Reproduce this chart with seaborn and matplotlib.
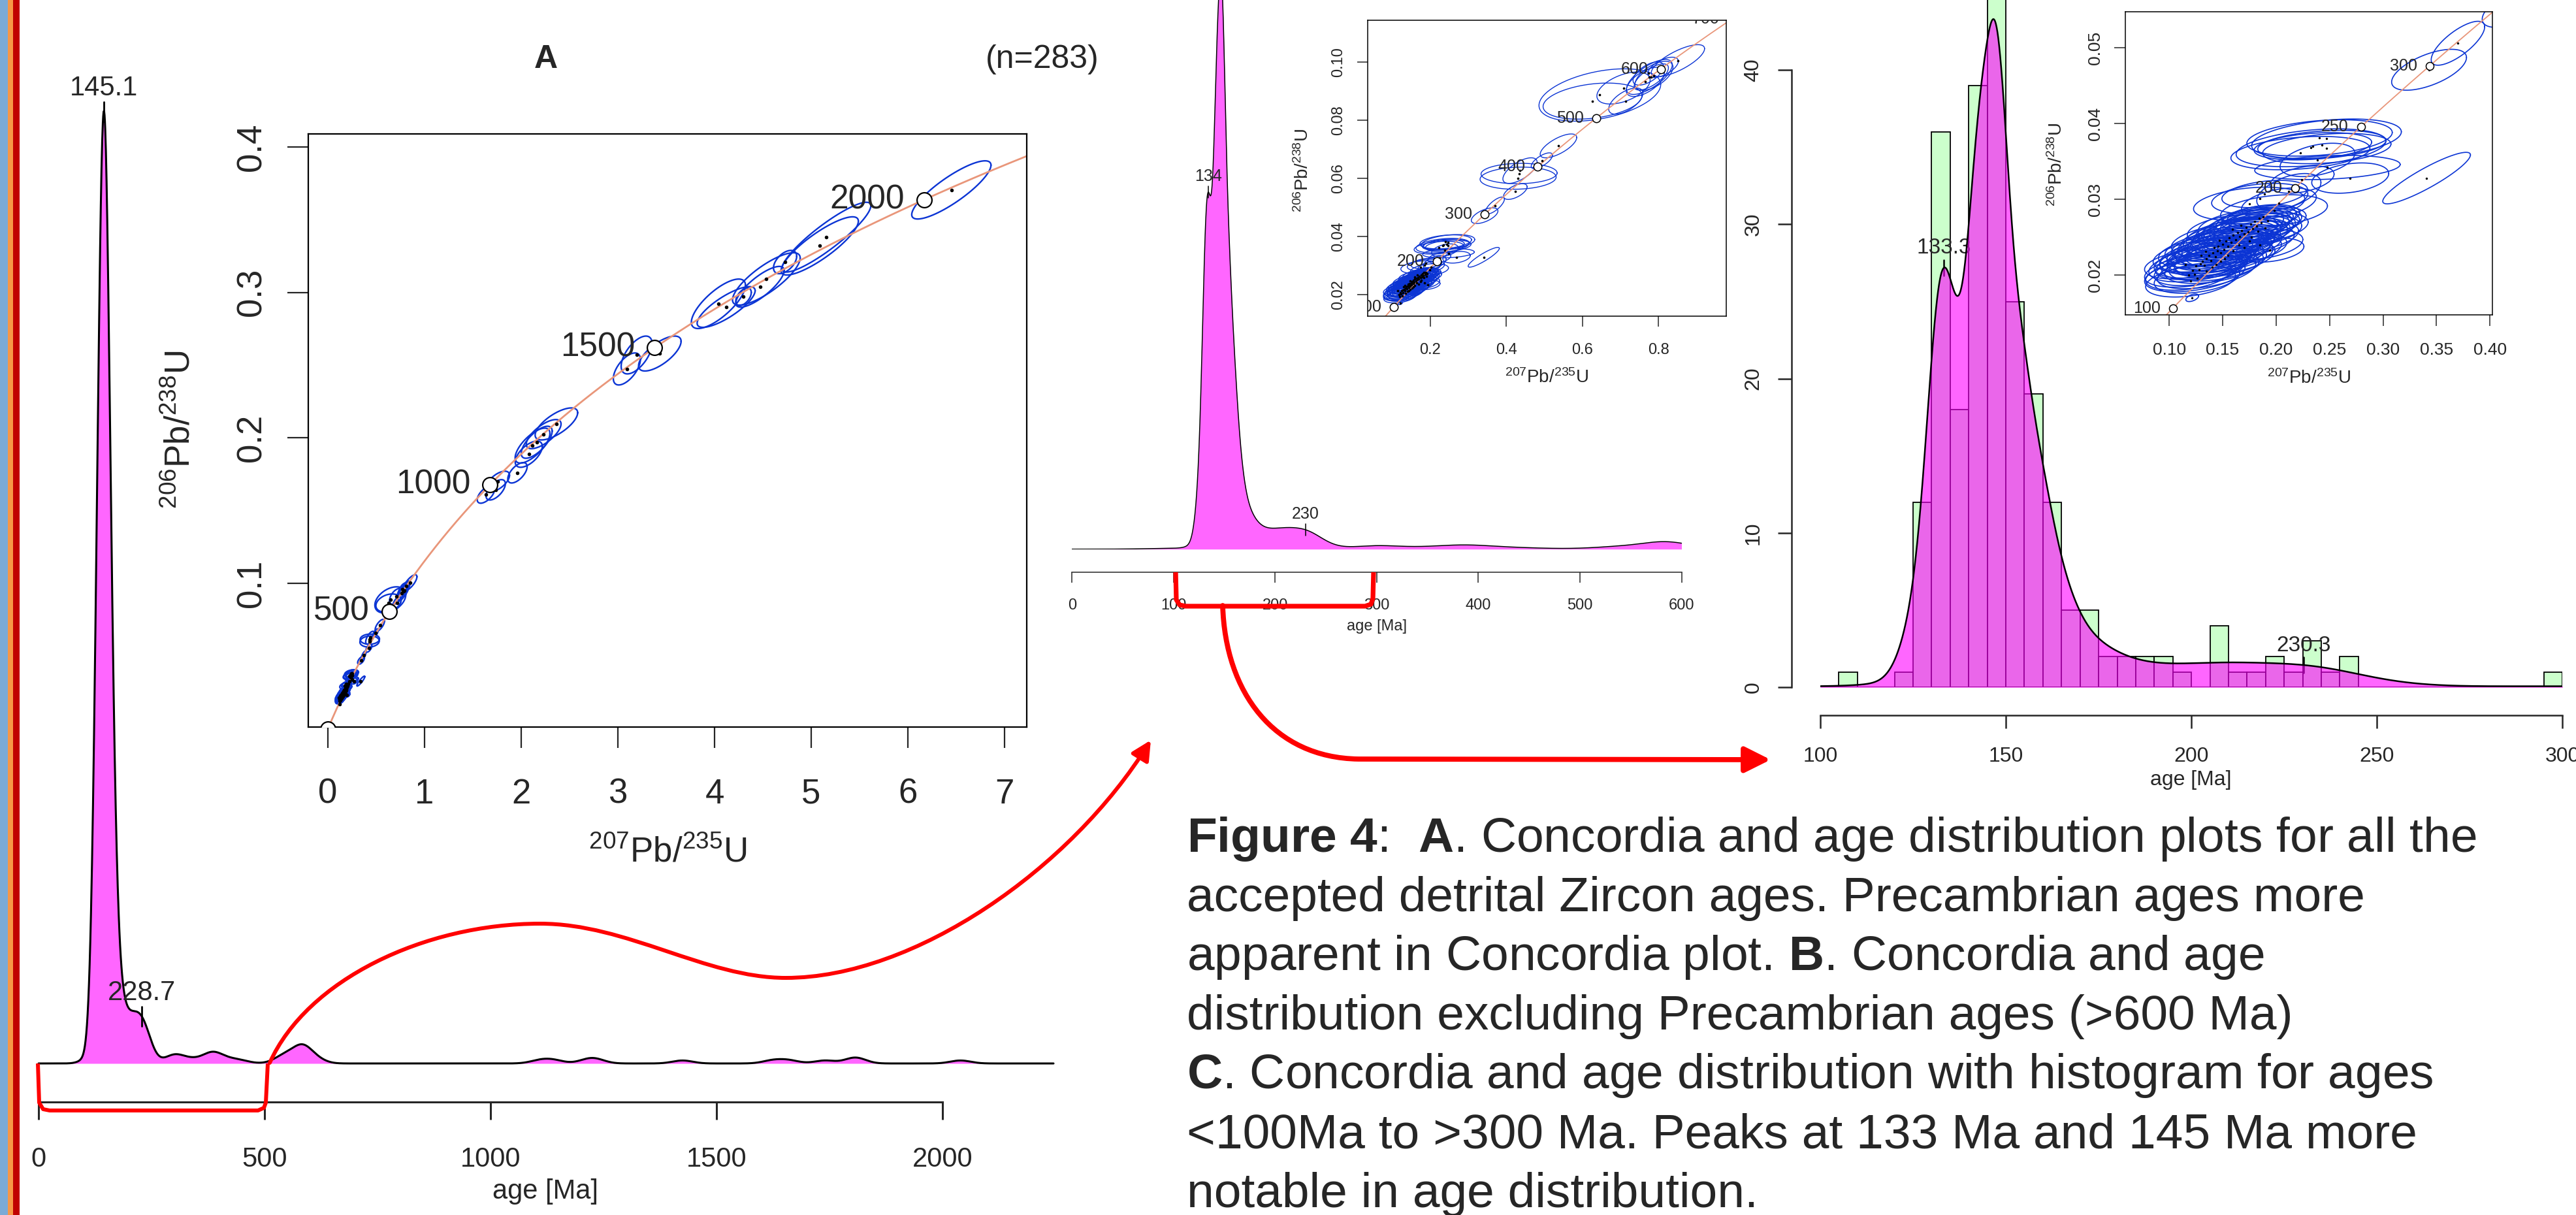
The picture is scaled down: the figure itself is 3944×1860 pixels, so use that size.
import numpy as np
import pandas as pd
import matplotlib
matplotlib.use("Agg")
import matplotlib.pyplot as plt
import matplotlib.transforms as mtrans
from matplotlib.path import Path
from matplotlib.patches import FancyArrowPatch, PathPatch, Rectangle
import seaborn as sns

# ---------------- data ----------------
# decay constants (1/Ma) used for the concordia curve
L238 = 1.55125e-4
L235 = 9.8485e-4

# panel C histogram: 5 Ma bins, 100-300 Ma
hist_edges = list(range(100, 305, 5))
hist_counts = [0, 1, 0, 0, 1, 12, 36, 18, 39, 45, 25, 19, 12, 5, 5, 2, 2, 2, 2, 1,
               0, 4, 1, 1, 2, 1, 3, 1, 2, 0, 0, 0, 0, 0, 0, 0, 0, 0, 0, 1]

# single grain ages outside the histogram range (Ma)
mid_ages = [297, 318, 347, 376, 385, 392, 413, 444, 534, 546, 560, 572, 582, 585, 589, 602, 616]
old_ages = [1110, 1140, 1215, 1235, 1425, 1625, 1660, 1740, 1800, 1815, 2040]

# labelled peaks
peaks_A = [145.1, 228.7]
peaks_B = [134, 230]
peaks_C = [133.3, 230.3]

# concordia age markers (Ma)
markers_A = [0, 500, 1000, 1500, 2000]
markers_B = [100, 200, 300, 400, 500, 600, 700]
markers_C = [100, 200, 250, 300]

# error ellipses: 207Pb/235U, 206Pb/238U, half-width x, half-width y, rho
ell_cluster = [
    (0.118, 0.0200, 0.040, 0.0020, 0.35), (0.122, 0.0206, 0.045, 0.0022, 0.40),
    (0.125, 0.0212, 0.038, 0.0018, 0.35), (0.128, 0.0207, 0.042, 0.0021, 0.40),
    (0.131, 0.0218, 0.045, 0.0022, 0.40), (0.133, 0.0213, 0.040, 0.0019, 0.35),
    (0.135, 0.0222, 0.044, 0.0021, 0.40), (0.137, 0.0226, 0.046, 0.0023, 0.45),
    (0.139, 0.0219, 0.041, 0.0020, 0.35), (0.141, 0.0229, 0.043, 0.0021, 0.40),
    (0.143, 0.0224, 0.045, 0.0022, 0.40), (0.145, 0.0232, 0.040, 0.0019, 0.35),
    (0.146, 0.0238, 0.044, 0.0020, 0.40), (0.148, 0.0229, 0.046, 0.0023, 0.45),
    (0.150, 0.0241, 0.042, 0.0020, 0.40), (0.151, 0.0234, 0.045, 0.0022, 0.40),
    (0.153, 0.0245, 0.040, 0.0019, 0.35), (0.155, 0.0238, 0.043, 0.0021, 0.40),
    (0.156, 0.0249, 0.045, 0.0022, 0.45), (0.158, 0.0243, 0.041, 0.0020, 0.35),
    (0.160, 0.0253, 0.044, 0.0021, 0.40), (0.162, 0.0247, 0.042, 0.0020, 0.40),
    (0.164, 0.0256, 0.040, 0.0019, 0.35), (0.166, 0.0251, 0.045, 0.0022, 0.40),
    (0.168, 0.0259, 0.038, 0.0018, 0.35), (0.170, 0.0254, 0.043, 0.0021, 0.40),
    (0.172, 0.0263, 0.040, 0.0020, 0.40), (0.174, 0.0257, 0.042, 0.0021, 0.40),
    (0.176, 0.0267, 0.038, 0.0019, 0.35), (0.178, 0.0261, 0.040, 0.0020, 0.40),
    (0.180, 0.0271, 0.036, 0.0018, 0.35), (0.182, 0.0265, 0.040, 0.0020, 0.40),
    (0.184, 0.0275, 0.035, 0.0017, 0.35), (0.186, 0.0269, 0.038, 0.0019, 0.40),
    (0.188, 0.0277, 0.034, 0.0016, 0.35), (0.190, 0.0262, 0.040, 0.0020, 0.40),
    (0.192, 0.0272, 0.036, 0.0018, 0.35), (0.194, 0.0233, 0.032, 0.0016, 0.30),
    (0.185, 0.0240, 0.040, 0.0020, 0.35), (0.175, 0.0245, 0.042, 0.0021, 0.40),
    (0.130, 0.0226, 0.045, 0.0022, 0.40), (0.126, 0.0196, 0.040, 0.0020, 0.35),
    (0.140, 0.0210, 0.044, 0.0021, 0.40), (0.115, 0.0214, 0.038, 0.0019, 0.35),
    (0.155, 0.0226, 0.042, 0.0021, 0.40), (0.165, 0.0240, 0.040, 0.0020, 0.40),
    (0.148, 0.0218, 0.043, 0.0021, 0.40), (0.160, 0.0232, 0.045, 0.0022, 0.40),
    (0.170, 0.0236, 0.040, 0.0020, 0.35), (0.135, 0.0205, 0.046, 0.0023, 0.45),
    (0.120, 0.0192, 0.042, 0.0021, 0.35), (0.124, 0.0201, 0.047, 0.0023, 0.40),
    (0.129, 0.0215, 0.048, 0.0024, 0.45), (0.134, 0.0231, 0.044, 0.0021, 0.40),
    (0.142, 0.0236, 0.046, 0.0023, 0.40), (0.147, 0.0246, 0.045, 0.0022, 0.40),
    (0.152, 0.0222, 0.047, 0.0023, 0.45), (0.159, 0.0260, 0.042, 0.0020, 0.35),
    (0.167, 0.0266, 0.040, 0.0020, 0.40), (0.177, 0.0250, 0.044, 0.0021, 0.40),
    (0.183, 0.0258, 0.041, 0.0020, 0.35), (0.144, 0.0214, 0.044, 0.0022, 0.40),
    (0.1216, 0.0170, 0.006, 0.0005, 0.50),
]
ell_200_300 = [
    (0.1748, 0.0294, 0.052, 0.0022, 0.30), (0.1847, 0.0301, 0.045, 0.0020, 0.30),
    (0.1893, 0.0307, 0.040, 0.0018, 0.35), (0.2119, 0.0310, 0.030, 0.0024, 0.50),
    (0.2026, 0.0295, 0.035, 0.0020, 0.40), (0.1980, 0.0285, 0.050, 0.0021, 0.30),
    (0.2227, 0.0361, 0.065, 0.0022, 0.30), (0.2326, 0.0368, 0.070, 0.0025, 0.35),
    (0.2344, 0.0370, 0.055, 0.0018, 0.30), (0.2406, 0.0381, 0.068, 0.0024, 0.30),
    (0.2428, 0.0372, 0.060, 0.0019, 0.30), (0.2471, 0.0380, 0.070, 0.0026, 0.35),
    (0.2474, 0.0367, 0.060, 0.0020, 0.30), (0.2387, 0.0352, 0.035, 0.0022, 0.40),
    (0.2242, 0.0326, 0.030, 0.0018, 0.40), (0.2480, 0.0342, 0.068, 0.0016, 0.25),
    (0.2693, 0.0328, 0.036, 0.0020, 0.30), (0.3407, 0.0328, 0.041, 0.0034, 0.90),
]
ell_300_650 = [
    (0.343, 0.0471, 0.035, 0.0027, 0.60), (0.370, 0.0506, 0.025, 0.0029, 0.75),
    (0.4237, 0.0554, 0.031, 0.0027, 0.60), (0.431, 0.0600, 0.100, 0.0038, 0.10),
    (0.4336, 0.0616, 0.100, 0.0035, 0.05), (0.436, 0.0626, 0.045, 0.0044, 0.65),
    (0.4934, 0.0660, 0.028, 0.0027, 0.70), (0.537, 0.0711, 0.048, 0.0041, 0.70),
    (0.6458, 0.0886, 0.160, 0.0090, 0.40), (0.6266, 0.0865, 0.130, 0.0062, 0.30),
    (0.714, 0.0865, 0.045, 0.0045, 0.60), (0.708, 0.0910, 0.070, 0.0055, 0.50),
    (0.765, 0.0931, 0.050, 0.0050, 0.60), (0.773, 0.0960, 0.040, 0.0040, 0.60),
    (0.781, 0.0948, 0.045, 0.0045, 0.70), (0.788, 0.0952, 0.050, 0.0050, 0.60),
    (0.812, 0.0981, 0.040, 0.0035, 0.60), (0.851, 0.1004, 0.070, 0.0055, 0.75),
    (0.776, 0.0948, 0.060, 0.0060, 0.70),
]
ell_old = [
    (6.450, 0.3705, 0.41, 0.020, 0.85), (5.157, 0.3380, 0.46, 0.024, 0.90),
    (5.088, 0.3320, 0.40, 0.020, 0.85), (4.730, 0.3209, 0.12, 0.008, 0.50),
    (4.536, 0.3093, 0.35, 0.018, 0.80), (4.470, 0.3039, 0.25, 0.014, 0.80),
    (4.040, 0.2922, 0.28, 0.017, 0.75), (4.120, 0.2900, 0.30, 0.014, 0.80),
    (4.300, 0.2970, 0.08, 0.006, 0.50), (3.194, 0.2570, 0.16, 0.013, 0.60),
    (3.093, 0.2474, 0.14, 0.011, 0.60), (3.434, 0.2580, 0.22, 0.012, 0.70),
    (2.364, 0.2096, 0.22, 0.011, 0.70), (2.232, 0.2026, 0.18, 0.010, 0.70),
    (2.117, 0.1947, 0.18, 0.012, 0.70), (2.078, 0.1888, 0.14, 0.009, 0.60),
    (2.160, 0.1970, 0.16, 0.011, 0.70), (1.961, 0.1760, 0.10, 0.007, 0.60),
    (1.759, 0.1701, 0.12, 0.007, 0.60), (1.635, 0.1611, 0.09, 0.006, 0.60),
    (1.736, 0.1643, 0.10, 0.007, 0.60),
]

# ---------------- setup ----------------
W, H = 3944, 1860
sns.set_theme(style="ticks")
plt.rcParams["font.family"] = ["Liberation Sans", "DejaVu Sans"]
plt.rcParams["mathtext.fontset"] = "custom"
plt.rcParams["mathtext.rm"] = "Liberation Sans"
plt.rcParams["mathtext.bf"] = "Liberation Sans:bold"
plt.rcParams["mathtext.it"] = "Liberation Sans:italic"

ELL = "#0b34d4"
MAG = "#ff00ff"
fig = plt.figure(figsize=(W / 100, H / 100), dpi=100, facecolor="white")
PT = 0.72  # points per pixel


def px_axes(x0, y0, x1, y1, **kw):
    return fig.add_axes([x0 / W, 1 - y1 / H, (x1 - x0) / W, (y1 - y0) / H], **kw)


def ftext(x, y, s, **kw):
    return fig.text(x / W, 1 - y / H, s, **kw)


hist_centers = [e + 2.5 for e in hist_edges[:-1]]
df_C = pd.DataFrame({"age": hist_centers, "n": hist_counts})
df_C = df_C[df_C.n > 0]
df_B = pd.concat([df_C, pd.DataFrame({"age": mid_ages, "n": 1})], ignore_index=True)
df_A = pd.concat([df_B, pd.DataFrame({"age": old_ages, "n": 1})], ignore_index=True)


def gauss(x, m, s):
    return np.exp(-0.5 * ((x - m) / s) ** 2) / (s * np.sqrt(2 * np.pi))


def kde(ax, df, h, alpha, clip, lw):
    # adaptive kernel density (local bandwidth shrinks where grains crowd)
    a = df.age.to_numpy(float)
    w = df.n.to_numpy(float)
    pilot = (w[None, :] * gauss(a[:, None], a[None, :], h)).sum(1) / w.sum()
    g = np.exp((w * np.log(pilot)).sum() / w.sum())
    hi = h * (g / pilot) ** alpha
    grid = np.linspace(clip[0], clip[1], 3000)
    dens = (w[None, :] * gauss(grid[:, None], a[None, :], hi[None, :])).sum(1) / w.sum()
    ax.fill_between(grid, dens, color=MAG, alpha=0.6, lw=0)
    sns.lineplot(x=grid, y=dens, color="black", lw=lw, ax=ax)
    ax.set(xlabel="", ylabel="")
    return grid, dens


def mark_peaks(ax, xs, ys, ages, scale, tick_px, lab_px, size, lw):
    y0, y1 = ax.get_ylim()
    per_px = (y1 - y0) / ax.bbox.height
    for a in ages:
        yv = np.interp(a, xs, ys) * scale
        ax.plot([a, a], [yv - tick_px * per_px, yv + tick_px * per_px], color="black", lw=lw, clip_on=False)
        ax.text(a, yv + lab_px * per_px, f"{a:g}", ha="center", va="center", fontsize=size, clip_on=False)


def r_xaxis(ax, off_px, ticks, lw, tlen_px, pad_px, size):
    for s in ["left", "right", "top"]:
        ax.spines[s].set_visible(False)
    ax.spines["bottom"].set_position(("outward", off_px * PT))
    ax.spines["bottom"].set_bounds(ticks[0], ticks[-1])
    ax.spines["bottom"].set_linewidth(lw)
    ax.set_xticks(ticks)
    ax.set_yticks([])
    ax.tick_params(axis="x", length=tlen_px * PT, width=lw, pad=pad_px * PT, labelsize=size, direction="out")
    ax.patch.set_visible(False)


all_ell = ell_cluster + ell_200_300 + ell_300_650 + ell_old
cur_ages = np.linspace(0, 2400, 800)
cur_x = np.exp(L235 * cur_ages) - 1
cur_y = np.exp(L238 * cur_ages) - 1


def concordia(ax, xlim, ylim, xticks, xlabs, yticks, ylabs, markers, st):
    t = np.linspace(0, 2 * np.pi, 90)
    for x, y, dx, dy, r in all_ell:
        ax.plot(x + dx * np.cos(t), y + dy * (r * np.cos(t) + np.sqrt(1 - r * r) * np.sin(t)),
                color=ELL, lw=st["ell_lw"])
    sns.scatterplot(x=[e[0] for e in all_ell], y=[e[1] for e in all_ell], color="black",
                    s=st["dot_s"], linewidth=0, ax=ax, zorder=3)
    sns.lineplot(x=cur_x, y=cur_y, sort=False, estimator=None, color="#e9967a", lw=st["conc_lw"], ax=ax, zorder=2)
    mx = np.exp(L235 * np.array(markers, float)) - 1
    my = np.exp(L238 * np.array(markers, float)) - 1
    sns.scatterplot(x=mx, y=my, s=st["circ_s"], facecolor="white", edgecolor="black",
                    linewidth=st["box_lw"], ax=ax, zorder=4)
    tr = mtrans.offset_copy(ax.transData, fig=fig, x=-st["lab_dx"] * PT, y=0, units="points")
    for a, x, y in zip(markers, mx, my):
        tx = ax.text(x, y, str(a), transform=tr, ha="right", va="center", fontsize=st["lab_size"], zorder=5)
        tx.set_clip_on(True)
        tx.set_clip_box(ax.bbox)
    ax.set_xlim(*xlim)
    ax.set_ylim(*ylim)
    ax.set_xticks(xticks, xlabs)
    ax.set_yticks(yticks, ylabs)
    ax.set(xlabel="", ylabel="")
    for s in ax.spines.values():
        s.set_visible(True)
        s.set_linewidth(st["box_lw"])
        s.set_color("black")
    ax.tick_params(axis="x", length=st["tlen"] * PT, width=st["box_lw"], pad=st["xpad"] * PT,
                   labelsize=st["tsize"], direction="out")
    ax.tick_params(axis="y", length=st["tlen"] * PT, width=st["box_lw"], pad=st["ypad"] * PT,
                   labelsize=st["tsize"], direction="out", labelrotation=90)
    for lb in ax.get_yticklabels():
        lb.set_va("center")
    ax.set_facecolor("white")


XLAB = r"$^{207}$Pb/$^{235}$U"
YLAB = r"$^{206}$Pb/$^{238}$U"

# ---------------- panel A ----------------
axA = px_axes(59, 170, 1613, 1628)
xa, ya = kde(axA, df_A, 12, 0.15, (0, 2246), 2.2)
for ln in axA.lines:
    ln.set_clip_on(False)
axA.set_xlim(0, 2246)
axA.set_ylim(0, ya.max())
r_xaxis(axA, 59, [0, 500, 1000, 1500, 2000], 2.2, 27, 41, 30)
mark_peaks(axA, xa, ya, peaks_A, 1.0, 15, 36, 30, 2.0)
ftext(835, 1824, "age [Ma]", ha="center", va="center", fontsize=30)
ftext(836, 91, "A", ha="center", va="center", fontsize=36, fontweight="bold")
ftext(1596, 91, "(n=283)", ha="center", va="center", fontsize=36)

stA = dict(ell_lw=1.7, dot_s=16, circ_s=270, conc_lw=2.0, lab_size=37, lab_dx=30, box_lw=1.6,
           tlen=32, tsize=38, xpad=46, ypad=30)
cA = px_axes(472, 205, 1572, 1113)
concordia(cA, (-0.203, 7.23), (0.0012, 0.409), range(8), [str(i) for i in range(8)],
          [0.1, 0.2, 0.3, 0.4], ["0.1", "0.2", "0.3", "0.4"], markers_A, stA)
ftext(1022, 1305, XLAB, ha="center", va="center", fontsize=38)
ftext(276, 658, YLAB, ha="center", va="center", fontsize=38, rotation=90)

# ---------------- panel B ----------------
axB = px_axes(1641.3, 0, 2574.5, 840.7)
xb, yb = kde(axB, df_B, 5, 0.5, (0, 600), 1.1)
axB.set_xlim(0, 600)
axB.set_ylim(0, yb.max() * 840.7 / 880)
r_xaxis(axB, 35, [0, 100, 200, 300, 400, 500, 600], 1.1, 16, 24, 17)
mark_peaks(axB, xb, yb, peaks_B, 1.0, 9, 24, 18, 1.1)
ftext(2108, 959, "age [Ma]", ha="center", va="center", fontsize=17)

stB = dict(ell_lw=1.0, dot_s=7, circ_s=80, conc_lw=1.3, lab_size=18, lab_dx=19, box_lw=1.1,
           tlen=16, tsize=17, xpad=25, ypad=18)
cB = px_axes(2094, 31, 2643, 484)
concordia(cB, (0.0357, 0.978), (0.01255, 0.1143), [0.2, 0.4, 0.6, 0.8], ["0.2", "0.4", "0.6", "0.8"],
          [0.02, 0.04, 0.06, 0.08, 0.10], ["0.02", "0.04", "0.06", "0.08", "0.10"], markers_B, stB)
ftext(2368, 578, XLAB, ha="center", va="center", fontsize=20)
ftext(1995, 261, YLAB, ha="center", va="center", fontsize=20, rotation=90)

# ---------------- panel C ----------------
axC = px_axes(2786.9, 0, 3923.4, 1052.3)
sns.histplot(x=hist_centers, weights=hist_counts, bins=hist_edges, color="#ccffcc", edgecolor="black",
             linewidth=1.3, alpha=1, ax=axC)
axC.set(xlabel="", ylabel="")
nC = sum(hist_counts)
ytop = 44.53
axC2 = axC.twinx()
xc, yc = kde(axC2, df_C, 4.2, 0.5, (100, 300), 1.8)
axC.set_xlim(100, 300)
axC.set_ylim(0, ytop)
axC2.set_ylim(0, ytop / (nC * 5))
axC2.axis("off")
for s in ["right", "top"]:
    axC.spines[s].set_visible(False)
axC.spines["bottom"].set_position(("outward", 42.7 * PT))
axC.spines["bottom"].set_bounds(100, 300)
axC.spines["left"].set_position(("outward", 44.2 * PT))
axC.spines["left"].set_bounds(0, 40)
for s in ["bottom", "left"]:
    axC.spines[s].set_linewidth(1.8)
axC.set_xticks([100, 150, 200, 250, 300])
axC.set_yticks([0, 10, 20, 30, 40])
axC.tick_params(axis="x", length=20 * PT, width=1.8, pad=28 * PT, labelsize=23, direction="out")
axC.tick_params(axis="y", length=21 * PT, width=1.8, pad=22 * PT, labelsize=23, direction="out", labelrotation=90)
for lb in axC.get_yticklabels():
    lb.set_va("center")
axC.patch.set_visible(False)
mark_peaks(axC, xc, yc, peaks_C, nC * 5, 12, 30, 24, 1.8)
ftext(3354, 1194, "age [Ma]", ha="center", va="center", fontsize=23)

stC = dict(ell_lw=1.2, dot_s=6, circ_s=75, conc_lw=1.3, lab_size=18, lab_dx=19, box_lw=1.1,
           tlen=16.6, tsize=19, xpad=25, ypad=17)
cC = px_axes(3253.8, 18.2, 3816.3, 482.4)
concordia(cC, (0.0589, 0.4024), (0.01471, 0.05474), [0.10, 0.15, 0.20, 0.25, 0.30, 0.35, 0.40],
          ["0.10", "0.15", "0.20", "0.25", "0.30", "0.35", "0.40"],
          [0.02, 0.03, 0.04, 0.05], ["0.02", "0.03", "0.04", "0.05"], markers_C, stC)
ftext(3535, 579, XLAB, ha="center", va="center", fontsize=20)
ftext(3149, 252, YLAB, ha="center", va="center", fontsize=20, rotation=90)

# ---------------- overlay: stripes, brackets, arrows ----------------
ov = fig.add_axes([0, 0, 1, 1], zorder=10)
ov.set_xlim(0, W)
ov.set_ylim(H, 0)
ov.axis("off")
ov.patch.set_visible(False)
for x0, w, c in [(0, 12, "#7baad6"), (12, 8, "#f79646"), (20, 10, "#c00000")]:
    ov.add_patch(Rectangle((x0, 0), w, H, color=c, lw=0))

M, C4, L2 = Path.MOVETO, Path.CURVE4, Path.LINETO
brA = [(58, 1628), (60, 1688), (66, 1698), (76, 1700), (395, 1700), (404, 1696), (407, 1688), (410, 1628)]
brB = [(1800, 876), (1801, 918), (1806, 926), (1815, 928), (2090, 928), (2099, 925), (2102, 916), (2103, 876)]
for pts, lw in [(brA, 4.3), (brB, 5.2)]:
    ov.add_patch(PathPatch(Path(pts), fill=False, edgecolor="red", lw=lw, joinstyle="round", capstyle="butt"))

p1 = Path([(413, 1627), (470, 1500), (650, 1414), (827, 1414), (960, 1414), (1080, 1497), (1203, 1497),
           (1400, 1497), (1640, 1330), (1762, 1133)], [M, C4, C4, C4, C4, C4, C4, C4, C4, C4])
ov.add_patch(FancyArrowPatch(path=p1, arrowstyle="-|>,head_length=0.9,head_width=0.45", mutation_scale=20,
                             color="red", lw=4.3, transform=ov.transData))
p2 = Path([(1872, 927), (1876, 1060), (1950, 1160), (2080, 1162), (2711, 1163)], [M, C4, C4, C4, L2])
ov.add_patch(FancyArrowPatch(path=p2, arrowstyle="-|>,head_length=1.0,head_width=0.5", mutation_scale=24,
                             color="red", lw=5.6, transform=ov.transData))

# ---------------- caption ----------------
caption = [
    r"$\mathbf{Figure\ 4}$:  $\mathbf{A}$. Concordia and age distribution plots for all the",
    "accepted detrital Zircon ages. Precambrian ages more",
    r"apparent in Concordia plot. $\mathbf{B}$. Concordia and age",
    "distribution excluding Precambrian ages (>600 Ma)",
    r"$\mathbf{C}$. Concordia and age distribution with histogram for ages",
    "<100Ma to >300 Ma. Peaks at 133 Ma and 145 Ma more",
    "notable in age distribution.",
]
for i, line in enumerate(caption):
    ftext(1817, 1304 + i * 90.6, line, ha="left", va="baseline", fontsize=54)

fig.savefig("out.png", dpi=100, facecolor="white")
